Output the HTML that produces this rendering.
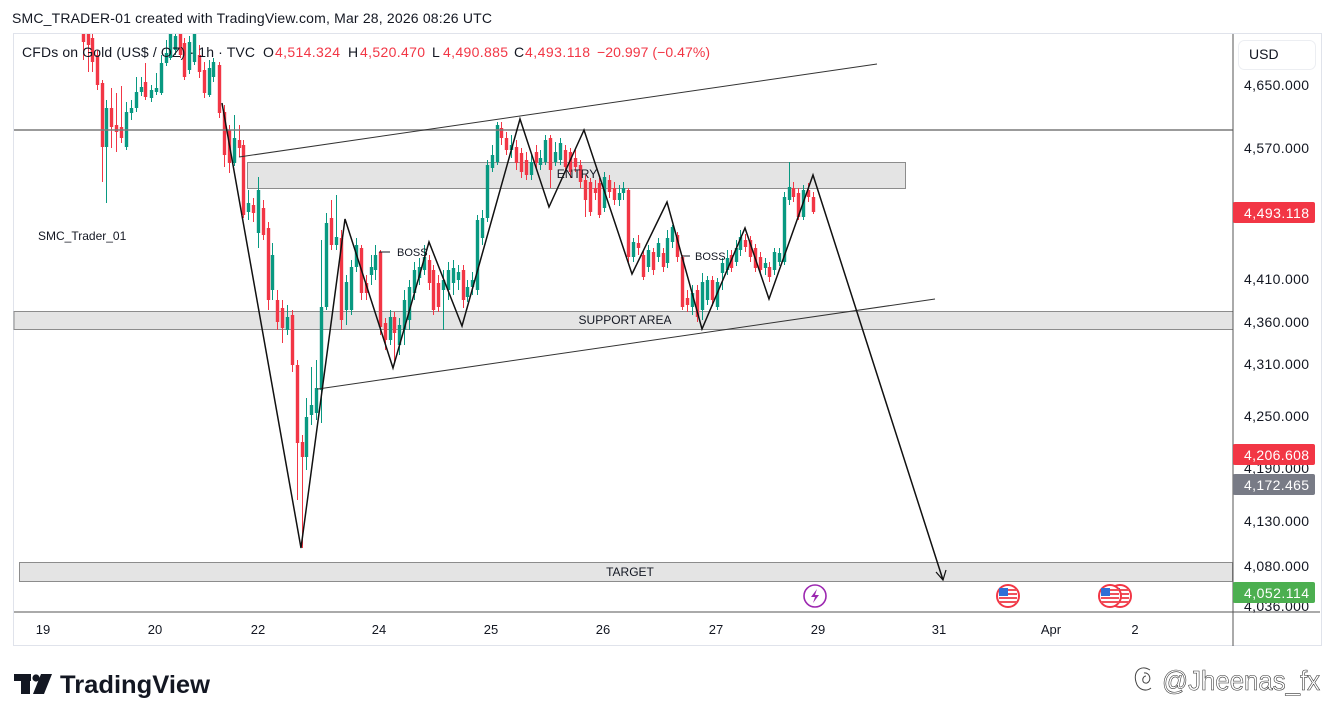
<!DOCTYPE html>
<html><head><meta charset="utf-8"><style>
html,body{margin:0;padding:0;background:#fff;width:1334px;height:720px;overflow:hidden}
svg{display:block}
text{font-family:"Liberation Sans",Arial,sans-serif}
</style></head><body>
<svg id="s" width="1334" height="720" viewBox="0 0 1334 720" xmlns="http://www.w3.org/2000/svg">
<defs><clipPath id="pc"><rect x="14" y="34" width="1219" height="577"/></clipPath></defs>
<rect width="1334" height="720" fill="#fff"/>
<text x="12" y="23" font-size="14" fill="#131722" textLength="480" lengthAdjust="spacing">SMC_TRADER-01 created with TradingView.com, Mar 28, 2026 08:26 UTC</text>
<rect x="13.5" y="33.5" width="1308" height="612" fill="#fff" stroke="#e0e3eb"/>
<!-- zones -->
<rect x="247.5" y="162.5" width="658" height="26" fill="#e4e4e4" stroke="#8c8c8c"/>
<rect x="14" y="311.5" width="1219" height="18" fill="#e4e4e4" stroke="#8c8c8c"/>
<rect x="19.5" y="562.5" width="1213" height="19" fill="#e4e4e4" stroke="#8c8c8c"/>
<g id="candles" clip-path="url(#pc)"></g>
<!-- lines -->
<line x1="14" y1="130" x2="1233" y2="130" stroke="#7a7a7a" stroke-width="1.5"/>
<line x1="239" y1="157" x2="877" y2="64" stroke="#333" stroke-width="1"/>
<polyline points="317,389 318,389 935,299" fill="none" stroke="#333" stroke-width="1"/>
<polyline points="222,103 301,548 345,219 393,368 429,242 462,326 520,119 549,207 584,130 632,274 667,202 702,329 745,228 769,299 813,175 943,580" fill="none" stroke="#111" stroke-width="1.5" stroke-linejoin="miter"/>
<polyline points="936,572 943,580 946,570" fill="none" stroke="#111" stroke-width="1.2"/>
<!-- labels -->
<text x="577" y="178" font-size="12" fill="#131722" text-anchor="middle">ENTRY</text>
<text x="625" y="324" font-size="12" fill="#131722" text-anchor="middle">SUPPORT AREA</text>
<text x="630" y="576" font-size="12" fill="#131722" text-anchor="middle">TARGET</text>
<line x1="379" y1="252" x2="390" y2="252" stroke="#131722" stroke-width="1"/>
<text x="397" y="256" font-size="11" fill="#131722">BOSS</text>
<line x1="683" y1="256" x2="690" y2="256" stroke="#131722" stroke-width="1"/>
<text x="695" y="260" font-size="11" fill="#131722">BOSS</text>
<text x="38" y="240" font-size="12" fill="#131722">SMC_Trader_01</text>
<!-- legend -->
<g font-size="14">
<text x="22" y="57" fill="#131722" textLength="233" lengthAdjust="spacing">CFDs on Gold (US$ / OZ) · 1h · TVC</text>
<text x="263" y="57" fill="#131722">O</text><text x="275" y="57" fill="#f23645" textLength="65">4,514.324</text>
<text x="348" y="57" fill="#131722">H</text><text x="360" y="57" fill="#f23645" textLength="65">4,520.470</text>
<text x="432" y="57" fill="#131722">L</text><text x="443" y="57" fill="#f23645" textLength="65">4,490.885</text>
<text x="514" y="57" fill="#131722">C</text><text x="525" y="57" fill="#f23645" textLength="65">4,493.118</text>
<text x="597" y="57" fill="#f23645" textLength="113" lengthAdjust="spacing">−20.997 (−0.47%)</text>
</g>
<!-- axes -->
<line x1="1233" y1="34" x2="1233" y2="646" stroke="#555" stroke-width="1"/>
<line x1="14" y1="612" x2="1320" y2="612" stroke="#555" stroke-width="1"/>
<rect x="1238.5" y="40.5" width="77" height="29" rx="6" fill="#fff" stroke="#eceef2"/>
<text x="1249" y="59" font-size="14" fill="#131722">USD</text>
<g font-size="14" fill="#131722">
<text x="1244" y="90" textLength="65">4,650.000</text>
<text x="1244" y="153" textLength="65">4,570.000</text>
<text x="1244" y="284" textLength="65">4,410.000</text>
<text x="1244" y="327" textLength="65">4,360.000</text>
<text x="1244" y="369" textLength="65">4,310.000</text>
<text x="1244" y="421" textLength="65">4,250.000</text>
<text x="1244" y="473" textLength="65">4,190.000</text>
<text x="1244" y="526" textLength="65">4,130.000</text>
<text x="1244" y="571" textLength="65">4,080.000</text>
<text x="1244" y="611" textLength="65">4,036.000</text>
</g>
<rect x="1233" y="202" width="82" height="21" rx="2" fill="#f23645"/>
<text x="1244" y="218" font-size="14" fill="#fff" textLength="65">4,493.118</text>
<rect x="1233" y="444" width="82" height="21" rx="2" fill="#f23645"/>
<text x="1244" y="460" font-size="14" fill="#fff" textLength="65">4,206.608</text>
<rect x="1233" y="474" width="82" height="21" rx="2" fill="#787b86"/>
<text x="1244" y="490" font-size="14" fill="#fff" textLength="65">4,172.465</text>
<rect x="1233" y="582" width="82" height="21" rx="2" fill="#4caf50"/>
<text x="1244" y="598" font-size="14" fill="#fff" textLength="65">4,052.114</text>
<g font-size="13" fill="#131722" text-anchor="middle">
<text x="43" y="634">19</text><text x="155" y="634">20</text><text x="258" y="634">22</text>
<text x="379" y="634">24</text><text x="491" y="634">25</text><text x="603" y="634">26</text>
<text x="716" y="634">27</text><text x="818" y="634">29</text><text x="939" y="634">31</text>
<text x="1051" y="634">Apr</text><text x="1135" y="634">2</text>
</g>
<!-- event icons -->
<circle cx="815" cy="596" r="11" fill="#fff" stroke="#9c27b0" stroke-width="1.6"/>
<path d="M817 589 L811 597 L815 597 L813 603 L819 595 L815 595 Z" fill="#9c27b0"/>
<g id="flag1"></g>
<!-- watermark -->
<rect x="14" y="674" width="17" height="7" fill="#131722"/>
<rect x="21" y="674" width="9" height="20" fill="#131722"/>
<circle cx="36" cy="678" r="3.6" fill="#131722"/>
<path d="M41 674 L52 674 L44 694 L33 694 Z" fill="#131722"/>
<text x="60" y="693" font-size="25" font-weight="bold" fill="#131722" textLength="150" lengthAdjust="spacingAndGlyphs">TradingView</text>
<path d="M1150 670 C1140 664 1133 672 1136 682 C1138 690 1146 692 1151 688 M1146 676 C1142 676 1141 684 1147 683 C1152 681 1150 672 1144 673" fill="none" stroke="#444" stroke-width="1"/>
<text x="1162" y="690" font-size="28" fill="#fff" stroke="#333" stroke-width="0.6" textLength="158" lengthAdjust="spacingAndGlyphs">@Jheenas_fx</text>
</svg>
<script>
var C=[[83,34,42,30,60,0],[88,34,45,30,72,0],[92,38,62,34,72,0],[97,55,85,50,90,0],[102,83,147,80,182,0],[106,108,147,100,203,1],[111,108,127,88,148,0],[116,125,132,93,152,0],[121,127,138,86,143,0],[126,112,147,102,150,1],[131,108,113,100,120,1],[136,92,108,77,112,1],[141,87,92,77,96,1],[145,82,97,63,100,0],[151,90,98,85,102,1],[156,88,92,73,95,1],[161,63,93,55,95,1],[166,53,63,40,66,1],[170,34,58,30,60,1],[175,36,50,30,55,1],[180,34,55,30,58,0],[184,43,77,38,80,0],[189,42,70,36,74,1],[194,34,62,30,65,1],[199,55,72,45,78,0],[204,70,93,62,98,0],[209,68,95,60,97,1],[213,62,77,58,82,1],[219,65,113,62,118,0],[224,112,155,105,167,0],[229,130,163,125,173,0],[234,138,163,115,166,1],[239,140,148,125,157,0],[243,145,215,140,218,0],[248,203,212,190,220,1],[253,205,213,198,222,0],[258,190,233,177,248,1],[263,208,235,200,240,0],[268,228,300,222,310,0],[272,255,290,243,300,1],[277,300,322,290,330,0],[282,308,328,300,343,0],[287,317,330,305,335,1],[292,315,365,310,372,0],[297,365,443,360,500,0],[302,442,457,435,548,0],[306,417,457,398,470,1],[311,405,415,367,425,1],[316,388,413,360,420,1],[321,307,390,240,423,1],[326,223,307,213,310,1],[331,218,245,200,250,0],[336,237,245,195,250,1],[341,238,320,230,330,0],[346,282,310,275,325,1],[351,267,310,260,315,1],[356,245,267,238,272,1],[361,248,293,245,300,0],[366,283,293,275,300,0],[371,267,275,255,285,1],[375,255,270,245,280,1],[380,252,327,250,335,0],[385,323,340,318,350,0],[390,317,340,310,345,1],[394,317,333,312,362,0],[399,325,345,318,355,1],[404,300,330,290,345,1],[409,287,320,280,330,1],[414,270,293,262,300,1],[419,267,278,258,285,1],[424,257,270,245,275,1],[429,260,283,255,290,0],[433,270,310,265,315,0],[438,283,307,275,312,0],[443,280,290,270,330,1],[448,270,290,262,300,1],[453,268,283,260,295,1],[458,272,280,265,290,1],[463,270,300,265,308,0],[467,287,297,280,302,1],[472,280,287,272,295,1],[477,220,290,215,295,1],[482,218,238,210,245,1],[487,165,218,160,222,1],[492,155,168,145,172,1],[497,125,162,122,165,1],[501,128,138,122,145,0],[506,138,150,132,155,0],[511,145,150,135,158,1],[516,147,163,140,170,0],[521,153,172,148,178,0],[526,160,175,152,180,0],[531,162,175,155,180,1],[536,152,163,145,170,0],[540,158,165,150,170,1],[545,140,162,135,165,1],[550,138,170,135,188,0],[555,152,162,142,166,1],[560,143,160,138,165,1],[565,150,167,145,172,0],[570,152,172,148,178,0],[575,158,167,150,172,0],[580,165,182,160,188,0],[585,180,200,175,217,0],[590,182,212,178,216,0],[595,188,193,180,200,0],[599,183,215,178,218,0],[604,177,208,172,212,1],[609,180,192,175,198,0],[614,188,200,182,205,0],[619,193,200,185,206,1],[623,188,193,182,200,1],[628,190,257,188,262,0],[633,242,257,238,262,1],[638,243,248,235,255,0],[643,255,277,250,280,0],[648,250,267,245,272,1],[653,252,270,248,275,0],[658,243,257,238,262,1],[663,253,267,248,272,0],[667,238,263,230,268,1],[672,227,242,225,248,1],[677,235,257,232,262,0],[682,257,307,255,310,0],[687,298,305,290,312,0],[692,293,307,285,315,1],[697,290,317,285,322,0],[702,282,310,273,320,1],[707,280,300,276,305,1],[712,280,300,276,306,0],[717,282,307,278,310,1],[722,263,273,258,290,1],[727,258,270,250,275,1],[731,255,268,250,272,0],[736,248,262,240,266,1],[740,237,250,230,256,1],[745,240,247,234,252,0],[750,240,257,236,262,0],[755,248,268,244,272,0],[760,257,270,252,274,0],[765,263,268,258,275,1],[769,267,277,262,282,0],[774,252,270,248,275,1],[779,253,262,248,266,1],[784,197,262,192,265,1],[789,187,200,162,205,1],[793,188,197,182,202,0],[798,193,217,188,220,0],[803,190,217,185,220,1],[808,190,197,183,202,0],[813,197,212,192,214,0]];
var ns="http://www.w3.org/2000/svg",g=document.getElementById("candles");
C.forEach(function(c){var col=c[5]?"#089981":"#f23645";
var l=document.createElementNS(ns,"line");l.setAttribute("x1",c[0]+0.5);l.setAttribute("x2",c[0]+0.5);l.setAttribute("y1",c[3]);l.setAttribute("y2",c[4]);l.setAttribute("stroke",col);l.setAttribute("stroke-width","1");g.appendChild(l);
var r=document.createElementNS(ns,"rect");r.setAttribute("x",c[0]-1.2);r.setAttribute("y",c[1]);r.setAttribute("width","3.4");r.setAttribute("height",Math.max(1.5,c[2]-c[1]));r.setAttribute("fill",col);g.appendChild(r);});
function flag(cx,cy){var h='<g><circle cx="'+cx+'" cy="'+cy+'" r="11" fill="#fff" stroke="#f23645" stroke-width="2"/>';
for(var i=0;i<4;i++){h+='<rect x="'+(cx-9)+'" y="'+(cy-7+i*4)+'" width="18" height="2" fill="#f0505a"/>';}
h+='<rect x="'+(cx-9)+'" y="'+(cy-8)+'" width="9" height="8" fill="#2f6fd6"/></g>';return h;}
document.getElementById("flag1").innerHTML=flag(1120,596)+flag(1110,596)+flag(1008,596);
</script>
</body></html>
